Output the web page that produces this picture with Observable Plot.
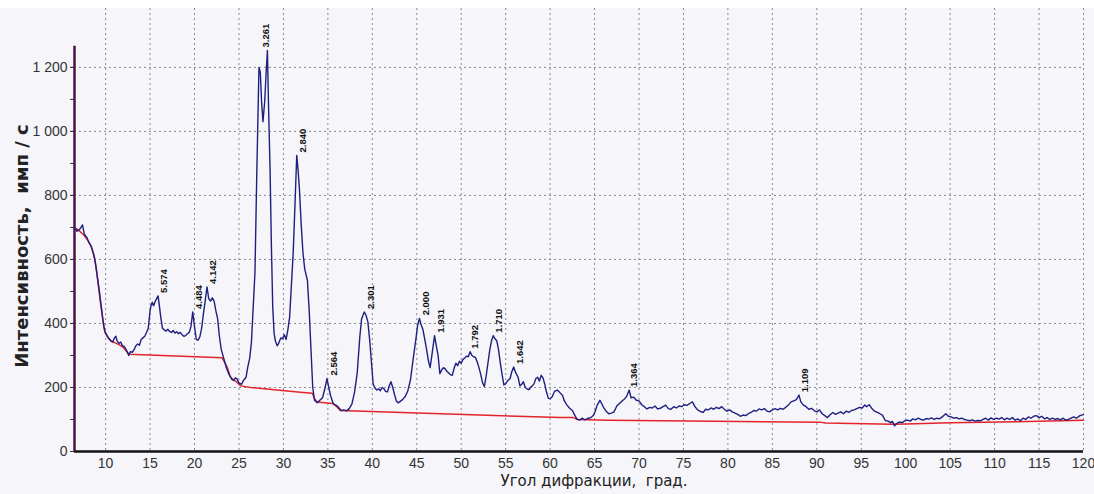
<!DOCTYPE html>
<html><head><meta charset="utf-8">
<script src="https://cdn.jsdelivr.net/npm/d3@7"></script>
<script src="https://cdn.jsdelivr.net/npm/@observablehq/plot@0.6"></script>
<style>
html,body{margin:0;padding:0;background:#fff;}
#top{height:8px;background:#fff;}
#chart svg{display:block;}
svg text{white-space:pre;}
</style></head><body><div id="top"></div><div id="chart"></div>
<script>
// Diffraction pattern (angle 2θ, intensity counts/s)
const blue = [
[6.5,700],[6.8,688],[7.1,695],[7.4,708],[7.6,680],[7.9,668],[8.1,654],[8.4,640],[8.7,610],[8.9,580],
[9.1,540],[9.3,500],[9.5,455],[9.7,410],[9.9,375],[10.1,365],[10.3,355],[10.6,345],[10.8,342],[11.0,355],
[11.15,360],[11.3,345],[11.5,338],[11.7,342],[11.9,330],[12.1,328],[12.3,318],[12.5,308],[12.6,300],[12.8,312],
[13.0,310],[13.2,318],[13.4,330],[13.6,336],[13.8,332],[14.0,350],[14.2,355],[14.4,360],[14.6,372],[14.8,385],
[15.0,440],[15.1,455],[15.25,466],[15.4,455],[15.6,470],[15.9,486],[16.05,455],[16.2,420],[16.4,385],[16.6,380],
[16.8,376],[17.0,382],[17.2,375],[17.4,372],[17.6,378],[17.8,370],[18.0,374],[18.2,368],[18.4,372],[18.6,365],
[18.8,360],[19.0,362],[19.2,368],[19.4,372],[19.6,390],[19.8,436],[20.0,390],[20.2,350],[20.4,348],[20.6,358],
[20.8,385],[21.0,430],[21.2,470],[21.4,514],[21.6,478],[21.8,470],[22.0,480],[22.2,470],[22.4,440],[22.6,415],
[22.8,360],[23.0,320],[23.3,290],[23.6,260],[23.9,240],[24.2,225],[24.4,222],[24.6,230],[24.8,226],[25.0,214],
[25.3,210],[25.5,222],[25.8,232],[26.0,265],[26.2,290],[26.4,340],[26.6,450],[26.8,560],[27.0,860],[27.25,1200],
[27.4,1185],[27.55,1090],[27.7,1030],[27.9,1095],[28.05,1180],[28.2,1253],[28.35,1050],[28.5,880],[28.65,640],[28.8,450],
[28.95,370],[29.1,345],[29.3,330],[29.5,340],[29.7,355],[29.9,352],[30.1,365],[30.3,350],[30.5,380],[30.7,420],
[30.9,520],[31.1,620],[31.3,770],[31.5,925],[31.65,880],[31.8,820],[32.0,710],[32.2,620],[32.4,570],[32.7,535],
[32.9,440],[33.1,320],[33.3,200],[33.5,160],[33.8,152],[34.1,160],[34.4,168],[34.7,200],[34.9,228],[35.1,200],
[35.3,175],[35.6,150],[35.9,145],[36.2,138],[36.5,128],[36.8,130],[37.1,127],[37.4,134],[37.7,148],[38.0,185],
[38.3,245],[38.6,360],[38.8,415],[39.1,436],[39.3,425],[39.5,405],[39.7,350],[39.9,280],[40.1,210],[40.3,198],
[40.5,192],[40.7,196],[40.9,190],[41.1,200],[41.3,196],[41.5,188],[41.7,186],[41.9,205],[42.1,218],[42.3,200],
[42.5,178],[42.7,158],[42.9,152],[43.1,156],[43.4,162],[43.7,172],[44.0,190],[44.3,225],[44.6,290],[44.9,350],
[45.1,395],[45.3,416],[45.5,395],[45.7,380],[45.9,350],[46.1,320],[46.3,285],[46.5,262],[46.7,300],[47.0,362],
[47.2,330],[47.4,300],[47.6,243],[47.8,255],[48.0,262],[48.2,258],[48.4,250],[48.6,245],[48.8,240],[49.0,238],
[49.2,260],[49.4,276],[49.6,268],[49.8,282],[50.0,276],[50.2,288],[50.4,292],[50.6,298],[50.8,296],[51.0,312],
[51.2,300],[51.4,296],[51.6,294],[51.8,280],[52.0,262],[52.2,240],[52.4,215],[52.6,203],[52.8,235],[53.0,275],
[53.2,315],[53.4,345],[53.6,362],[53.8,352],[54.0,346],[54.2,318],[54.4,276],[54.6,240],[54.8,208],[55.0,212],
[55.2,220],[55.5,228],[55.7,250],[55.9,264],[56.1,248],[56.4,232],[56.6,205],[56.8,210],[57.0,218],[57.2,200],
[57.4,196],[57.6,193],[57.8,200],[58.0,205],[58.2,212],[58.4,228],[58.6,232],[58.8,220],[59.0,238],[59.2,230],
[59.4,210],[59.6,185],[59.8,166],[60.0,165],[60.25,172],[60.5,188],[60.8,192],[61.1,184],[61.4,175],[61.6,158],
[61.9,145],[62.2,135],[62.5,128],[62.8,112],[63.0,102],[63.3,98],[63.6,104],[63.9,99],[64.2,103],[64.6,106],
[64.9,114],[65.1,128],[65.3,145],[65.6,160],[65.8,150],[66.0,138],[66.3,126],[66.6,118],[66.9,120],[67.2,124],
[67.5,142],[67.8,150],[68.1,158],[68.4,165],[68.6,172],[68.9,192],[69.1,168],[69.4,170],[69.7,160],[70.0,158],
[70.3,146],[70.6,140],[70.9,133],[71.2,138],[71.5,136],[71.8,142],[72.1,133],[72.4,135],[72.7,140],[73.0,145],
[73.3,134],[73.6,132],[73.9,140],[74.2,136],[74.5,142],[74.8,140],[75.1,146],[75.4,144],[75.7,150],[76.0,155],
[76.3,140],[76.6,130],[76.9,125],[77.2,122],[77.5,132],[77.8,130],[78.1,136],[78.4,132],[78.7,138],[79.0,134],
[79.3,140],[79.6,132],[79.9,126],[80.2,130],[80.5,124],[80.8,120],[81.1,116],[81.4,110],[81.7,114],[82.0,112],
[82.3,118],[82.6,122],[82.9,128],[83.2,126],[83.5,133],[83.8,130],[84.1,134],[84.4,126],[84.7,124],[85.0,130],
[85.3,134],[85.6,130],[85.9,135],[86.2,132],[86.5,138],[86.8,145],[87.1,155],[87.4,158],[87.7,162],[88.0,176],
[88.2,155],[88.5,145],[88.8,140],[89.1,132],[89.4,135],[89.7,128],[90.0,124],[90.3,130],[90.6,118],[90.9,112],
[91.2,106],[91.5,115],[91.8,122],[92.1,116],[92.4,120],[92.7,124],[93.0,118],[93.3,126],[93.6,122],[93.9,128],
[94.2,130],[94.5,134],[94.8,138],[95.1,136],[95.4,145],[95.6,140],[95.9,146],[96.2,134],[96.5,126],[96.8,122],
[97.1,118],[97.4,113],[97.7,97],[98.0,95],[98.3,90],[98.5,94],[98.75,80],[99.0,88],[99.3,92],[99.6,90],
[99.9,96],[100.2,98],[100.5,95],[100.8,102],[101.1,99],[101.4,104],[101.7,100],[102.0,98],[102.3,103],[102.6,101],
[102.9,105],[103.2,100],[103.5,104],[103.8,102],[104.1,108],[104.5,118],[104.8,110],[105.1,108],[105.4,104],[105.7,106],
[106.0,102],[106.3,104],[106.6,100],[106.9,98],[107.2,96],[107.5,99],[107.8,95],[108.1,97],[108.4,96],[108.7,100],
[109.0,104],[109.3,98],[109.6,105],[109.9,100],[110.2,104],[110.5,101],[110.8,106],[111.1,99],[111.4,104],[111.7,100],
[112.0,106],[112.3,98],[112.6,102],[112.9,96],[113.2,104],[113.5,100],[113.8,108],[114.1,104],[114.4,110],[114.7,112],
[115.0,106],[115.3,110],[115.6,102],[115.9,106],[116.2,100],[116.5,104],[116.8,100],[117.1,103],[117.4,99],[117.7,104],
[118.0,98],[118.3,100],[118.6,104],[118.9,108],[119.2,104],[119.6,112],[120.0,115]
];
// Background line
const red = [
[6.5,700],[7.0,690],[7.5,678],[8.0,660],[8.3,645],[8.6,622],[8.8,600],[9.0,560],[9.2,515],[9.4,470],
[9.6,430],[9.8,390],[10.0,368],[10.3,355],[10.6,346],[11.0,340],[11.5,334],[12.0,325],[12.3,315],[12.6,304],
[23.1,293],[23.4,278],[23.7,262],[24.0,235],[24.3,225],[24.7,218],[25.2,205],[26.3,200],[31.9,185],[33.25,182],
[33.5,165],[33.8,155],[35.5,150],[36.0,140],[36.4,128],[61.2,106],[62.6,106],[63.1,100],[66.5,98],[75.5,95],
[90.5,91],[91.0,89],[98.5,85],[100.0,86],[105.0,90],[110.7,92],[120.0,98]
];
// Peak labels (d-spacing) at peak positions
const peakAngle = [15.89, 19.78, 21.44, 27.33, 31.47, 34.97, 39.12, 45.31, 47.02, 50.92, 53.55, 55.96, 68.77, 88.0];
const peakIntensity = [486, 436, 514, 1253, 925, 228, 436, 416, 362, 312, 362, 264, 192, 176];
const peakText = ["5.574","4.484","4.142","3.261","2.840","2.564","2.301","2.000","1.931","1.792","1.710","1.642","1.364","1.109"];
const xTicks = d3.range(10, 121, 5);
const yTicks = [0, 200, 400, 600, 800, 1000, 1200];
const yMinor = d3.range(0, 1201, 100);
const xDomain = [6.5, 120];
const yDomain = [0, 1384];
const yAxisTop = 1266;
const xLabel = "Угол дифракции,  град.";
const yLabel = "Интенсивность,  имп / с";

const peaks = peakText.map((t, i) => ({x: peakAngle[i], y: peakIntensity[i], t}));
const fmt = d => d3.format(",")(d).replace(/,/g, " ");

const chart = Plot.plot({
  width: 1094, height: 486,
  marginLeft: 74, marginRight: 11, marginTop: 0, marginBottom: 43,
  style: {background: "#f5f5fa", fontFamily: "'Liberation Sans', Arial, sans-serif", fontSize: "14px", color: "#333"},
  x: {domain: xDomain},
  y: {domain: yDomain},
  marks: [
    Plot.gridX(xTicks, {stroke: "#8a8a8a", strokeOpacity: 1, strokeDasharray: "2,3"}),
    Plot.gridY(yTicks.slice(1), {stroke: "#8a8a8a", strokeOpacity: 1, strokeDasharray: "2,3"}),
    Plot.axisY(yMinor, {tickSize: 4, tickFormat: () => "", stroke: "#333", label: null}),
    Plot.axisY(yTicks, {tickSize: 4, tickPadding: 3, tickFormat: fmt, fontSize: 14, fill: "#333", stroke: "#333", label: null}),
    Plot.axisX(xTicks, {tickSize: 0, tickPadding: 7, fontSize: 14, fill: "#333", label: null}),
    Plot.ruleY([0], {stroke: "#111", strokeWidth: 2.5}),
    Plot.ruleX([xDomain[0]], {y1: 0, y2: yAxisTop, stroke: "#4a1545", strokeWidth: 2.5}),
    Plot.line(red, {x: d => d[0], y: d => d[1], stroke: "#e3242b", strokeWidth: 1.5}),
    Plot.line(blue, {x: d => d[0], y: d => d[1], stroke: "#1f1f80", strokeWidth: 1.4}),
    Plot.text(peaks, {x: "x", y: "y", text: "t", rotate: -90, textAnchor: "start", dx: 6, dy: -3,
      fontWeight: "bold", fontSize: 9.5, fill: "#111"}),
    Plot.text([xLabel], {text: d => d, frameAnchor: "bottom", textAnchor: "middle", lineAnchor: "middle", dx: 15, dy: 30,
      fontSize: 15, fontFamily: "'DejaVu Sans', sans-serif", fill: "#222"}),
    Plot.text([yLabel], {text: d => d, frameAnchor: "left", textAnchor: "middle", lineAnchor: "middle", rotate: -90, dx: -52, dy: 16,
      fontSize: 18, fontWeight: "bold", fontFamily: "'DejaVu Sans', sans-serif", fill: "#222"})
  ]
});
document.getElementById("chart").appendChild(chart);
</script></body></html>
